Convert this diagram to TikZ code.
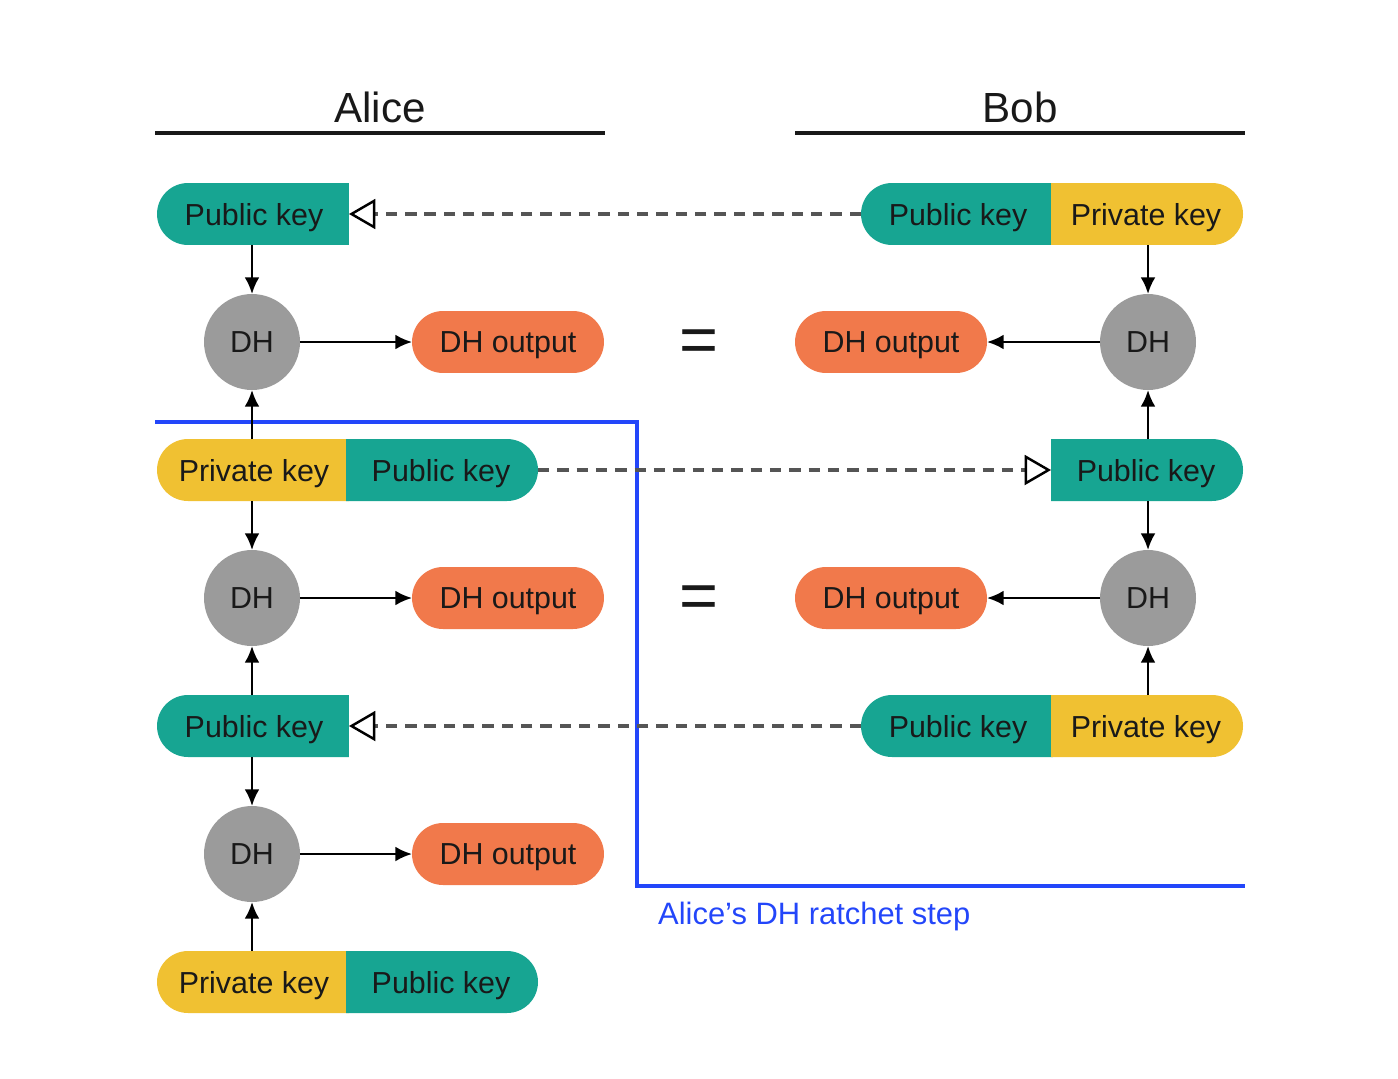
\documentclass[tikz,border=0pt]{standalone}
\usepackage{fontspec}
\setmainfont{Liberation Sans}
\usetikzlibrary{arrows.meta,shapes.misc}
\definecolor{teal}{RGB}{23,165,146}
\definecolor{gold}{RGB}{240,193,50}
\definecolor{orng}{RGB}{241,121,75}
\definecolor{dhgray}{RGB}{155,155,155}
\definecolor{txt}{RGB}{25,25,25}
\definecolor{ratchet}{RGB}{35,70,250}
\definecolor{dash}{RGB}{85,85,85}
\begin{document}
\begin{tikzpicture}[x=0.02cm,y=-0.02cm,
  lbl/.style={text=txt,font=\fontsize{17.3}{20}\selectfont,text depth=0pt},
  keypart/.style={lbl,shape=rounded rectangle,minimum width=3.84cm,minimum height=1.24cm,inner sep=0pt,outer sep=0pt},
  lround/.style={keypart,rounded rectangle west arc=convex,rounded rectangle east arc=none},
  rround/.style={keypart,rounded rectangle west arc=none,rounded rectangle east arc=convex},
  pubL/.style={lround,fill=teal},
  pubR/.style={rround,fill=teal},
  privL/.style={lround,fill=gold},
  privR/.style={rround,fill=gold},
  dhout/.style={keypart,fill=orng,rounded rectangle west arc=convex,rounded rectangle east arc=convex},
  dhnode/.style={lbl,circle,fill=dhgray,minimum size=1.92cm,inner sep=0pt,outer sep=0pt},
  arr/.style={line width=1.4pt,draw=black,-{Latex[length=9.5pt,width=8.5pt]}},
  sent/.style={line width=1.8pt,draw=dash,dash pattern=on 6.5pt off 4.5pt,-{Triangle[open,length=15pt,width=17pt,line width=1.4pt,color=black]}},
  title/.style={text=txt,font=\fontsize{24}{28}\selectfont},
  eq/.style={text=txt,font=\fontsize{38}{40}\selectfont}
]
\useasboundingbox (0,0) rectangle (1398,1078);

% titles
\node[title] (alice) at (380,107) {Alice};
\node[title] (bob) at (1020,107) {Bob};
\draw[line width=1.8pt,txt] (155,133) -- (605,133);
\draw[line width=1.8pt,txt] (795,133) -- (1245,133);

% row 1
\node[pubL] (apk1) at (254,214) {Public key};
\node[pubL] (bpk1) at (958,214) {Public key};
\node[privR] (bpriv1) at (1146,214) {Private key};

% row 2
\node[dhnode] (adh2) at (252,342) {DH};
\node[dhout] (aout2) at (508,342) {DH output};
\node[eq] (eq2) at (699,346) {=};
\node[dhout] (bout2) at (891,342) {DH output};
\node[dhnode] (bdh2) at (1148,342) {DH};

% row 3
\node[privL] (apriv3) at (254,470) {Private key};
\node[pubR] (apub3) at (441,470) {Public key};
\node[pubR] (bpk3) at (1146,470) {Public key};

% row 4
\node[dhnode] (adh4) at (252,598) {DH};
\node[dhout] (aout4) at (508,598) {DH output};
\node[eq] (eq4) at (699,602) {=};
\node[dhout] (bout4) at (891,598) {DH output};
\node[dhnode] (bdh4) at (1148,598) {DH};

% row 5
\node[pubL] (apk5) at (254,726) {Public key};
\node[pubL] (bpk5) at (958,726) {Public key};
\node[privR] (bpriv5) at (1146,726) {Private key};

% row 6
\node[dhnode] (adh6) at (252,854) {DH};
\node[dhout] (aout6) at (508,854) {DH output};

% row 7
\node[privL] (apriv7) at (254,982) {Private key};
\node[pubR] (apub7) at (441,982) {Public key};

% ratchet step boundary
\coordinate (r1) at (155,422);
\coordinate (r2) at (637,422);
\coordinate (r3) at (637,886);
\coordinate (r4) at (1245,886);
\draw[line width=2.3pt,ratchet,line join=miter] (r1) -- (r2) -- (r3) -- (r4);
\node[text=ratchet,font=\fontsize{17.6}{20}\selectfont,anchor=west] (rlabel) at (652,916) {Alice’s DH ratchet step};

% sent keys
\draw[sent] (bpk1.west) -- (apk1.east);
\draw[sent] (apub3.east) -- (bpk3.west);
\draw[sent] (bpk5.west) -- (apk5.east);

% Alice arrows
\draw[arr] (adh2.north |- apk1.south) -- (adh2.north);
\draw[arr] (adh2.south |- apriv3.north) -- (adh2.south);
\draw[arr] (adh2.east) -- (aout2.west);
\draw[arr] (adh4.north |- apriv3.south) -- (adh4.north);
\draw[arr] (adh4.south |- apk5.north) -- (adh4.south);
\draw[arr] (adh4.east) -- (aout4.west);
\draw[arr] (adh6.north |- apk5.south) -- (adh6.north);
\draw[arr] (adh6.south |- apriv7.north) -- (adh6.south);
\draw[arr] (adh6.east) -- (aout6.west);

% Bob arrows
\draw[arr] (bdh2.north |- bpriv1.south) -- (bdh2.north);
\draw[arr] (bdh2.south |- bpk3.north) -- (bdh2.south);
\draw[arr] (bdh2.west) -- (bout2.east);
\draw[arr] (bdh4.north |- bpk3.south) -- (bdh4.north);
\draw[arr] (bdh4.south |- bpriv5.north) -- (bdh4.south);
\draw[arr] (bdh4.west) -- (bout4.east);
\end{tikzpicture}
\end{document}
